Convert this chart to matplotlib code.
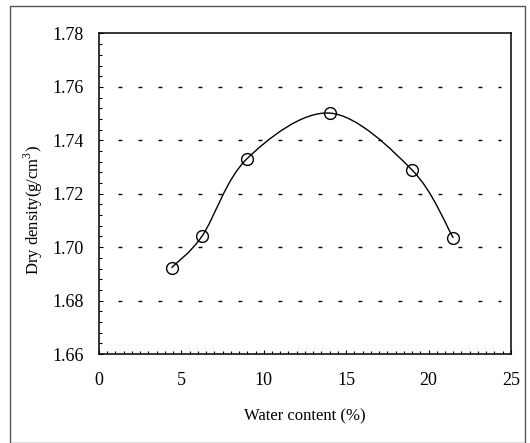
import numpy as np
import matplotlib.pyplot as plt
from matplotlib.path import Path
from matplotlib.patches import PathPatch, Rectangle
from matplotlib.ticker import MultipleLocator

plt.rcParams['font.family'] = ['Liberation Serif', 'DejaVu Serif']
plt.rcParams['mathtext.fontset'] = 'custom'
plt.rcParams['mathtext.rm'] = 'Liberation Serif'

# compaction test points
water_content = [4.4, 6.26, 8.98, 14.0, 19.0, 21.5]
dry_density = [1.6923, 1.7042, 1.7331, 1.7502, 1.7289, 1.7035]
grid_levels = [1.68, 1.70, 1.72, 1.74, 1.76]

fig = plt.figure(figsize=(5.30, 4.43), dpi=100)
ax = fig.add_axes([0.1868, 0.2009, 0.7772, 0.7235])

# outer frame around the whole figure
fig.patches.append(Rectangle((0.019, 0.0), 0.972, 0.986, transform=fig.transFigure,
                             fill=False, edgecolor='#555555', linewidth=1.0))

# smoothed line, Excel style bezier through the points
pts = np.column_stack([water_content, dry_density])
ext = np.vstack([pts[0], pts, pts[-1]])
verts = [tuple(pts[0])]
codes = [Path.MOVETO]
for i in range(len(pts) - 1):
    p0, p1, p2, p3 = ext[i], ext[i + 1], ext[i + 2], ext[i + 3]
    c1 = p1 + (p2 - p0) / 6.0
    c2 = p2 - (p3 - p1) / 6.0
    verts += [tuple(c1), tuple(c2), tuple(p2)]
    codes += [Path.CURVE4] * 3
ax.add_patch(PathPatch(Path(verts, codes), facecolor='none', edgecolor='black', linewidth=1.0, zorder=3))

ax.plot(water_content, dry_density, linestyle='none', marker='o', markersize=8.5,
        markerfacecolor='none', markeredgecolor='black', markeredgewidth=1.0, zorder=4)

for g in grid_levels:
    ax.axhline(g, xmin=0.046, xmax=0.976, color='black', linewidth=1.0,
               dashes=(2.8, 11.6), zorder=1)

ax.set_xlim(0, 25)
ax.set_ylim(1.66, 1.78)
ax.xaxis.set_major_locator(MultipleLocator(5))
ax.xaxis.set_minor_locator(MultipleLocator(0.5))
ax.yaxis.set_major_locator(MultipleLocator(0.02))
ax.yaxis.set_minor_locator(MultipleLocator(0.004))
ax.set_yticklabels(['%.2f' % v for v in ax.get_yticks()])

ax.tick_params(axis='both', which='both', direction='in', labelsize=13)
ax.tick_params(axis='both', which='major', length=3, width=0.8)
ax.tick_params(axis='both', which='minor', length=2, width=0.8)
ax.tick_params(axis='x', which='major', pad=13)
ax.tick_params(axis='y', which='major', pad=11)

for s in ax.spines.values():
    s.set_linewidth(1.1)

ax.set_xlabel('Water content (%)', fontsize=12)
ax.xaxis.set_label_coords(0.5, -0.17)
ax.set_ylabel('Dry density(g/cm$^3$)', fontsize=12)
ax.yaxis.set_label_coords(-0.132, 0.45)

fig.savefig('out.png', dpi=100)
